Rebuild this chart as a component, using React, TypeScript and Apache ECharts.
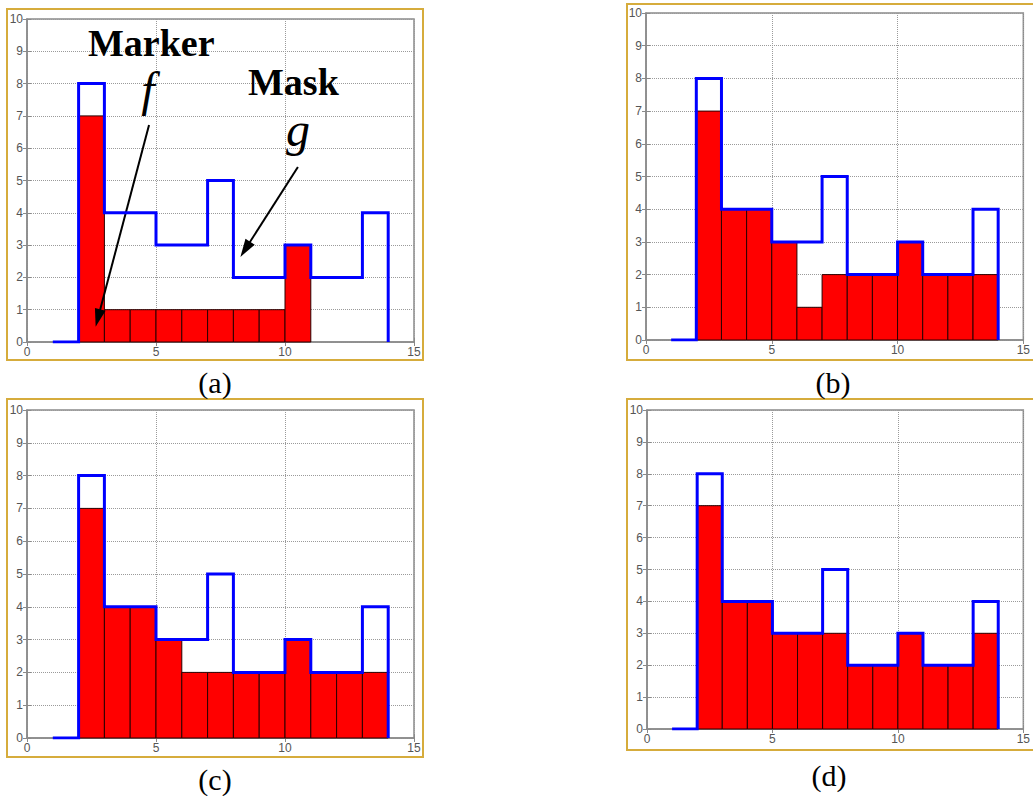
import React, { useEffect, useRef } from "react";
import * as echarts from "echarts";

// bins start at 1,2,...,13, each of width 1
const binStarts = [1, 2, 3, 4, 5, 6, 7, 8, 9, 10, 11, 12, 13];
const maskG = [0, 8, 4, 4, 3, 3, 5, 2, 2, 3, 2, 2, 4];
const markerA = [0, 7, 1, 1, 1, 1, 1, 1, 1, 3, 0, 0, 0];
const markerB = [0, 7, 4, 4, 3, 1, 2, 2, 2, 3, 2, 2, 2];
const markerC = [0, 7, 4, 4, 3, 2, 2, 2, 2, 3, 2, 2, 2];
const markerD = [0, 7, 4, 4, 3, 3, 3, 2, 2, 3, 2, 2, 3];
const panelMarkers = [markerA, markerB, markerC, markerD];
const captions = ["(a)", "(b)", "(c)", "(d)"];
// annotation arrows in panel (a), in data coordinates: [from, to]
const arrowF = [[4.73, 6.72], [2.75, 0.74]];
const arrowG = [[10.5, 5.42], [8.46, 2.87]];

const gridBoxes = [
  { left: 27, top: 19, width: 387, height: 323 },
  { left: 646, top: 13, width: 386, height: 327 },
  { left: 27, top: 410, width: 387, height: 328 },
  { left: 647, top: 410, width: 385, height: 319 },
];
const frames = [
  { x: 7, y: 9, width: 416, height: 351 },
  { x: 627, y: 4, width: 430, height: 356 },
  { x: 7, y: 399, width: 416, height: 358 },
  { x: 627, y: 399, width: 430, height: 351 },
];
const captionPos = [
  [215, 382],
  [833, 382],
  [215, 779],
  [829, 775],
];

function stepPoints(values: number[]) {
  const pts: number[][] = [];
  values.forEach((v, i) => {
    pts.push([binStarts[i], v]);
    pts.push([binStarts[i] + 1, v]);
  });
  pts.push([binStarts[binStarts.length - 1] + 1, 0]);
  return pts;
}

export default function App() {
  const ref = useRef<HTMLDivElement>(null);
  useEffect(() => {
    if (!ref.current) return;
    const chart = echarts.init(ref.current, null, { renderer: "svg" });
    const labelStyle = {
      fontFamily: "Liberation Sans",
      fontSize: 12,
      color: "#555",
    };
    const grids: any[] = [];
    const xAxes: any[] = [];
    const yAxes: any[] = [];
    const series: any[] = [];
    gridBoxes.forEach((g, k) => {
      grids.push({ ...g, show: true, borderColor: "#8a8a8a", borderWidth: 1.5, containLabel: false });
      xAxes.push({
        type: "value", gridIndex: k, min: 0, max: 15, interval: 5, position: "bottom",
        axisLine: { show: true, lineStyle: { color: "#8a8a8a", width: 1.5 } },
        axisTick: { show: true, inside: true, length: 4, lineStyle: { color: "#8a8a8a" } },
        axisLabel: { ...labelStyle, margin: 4 },
        splitLine: { show: true, lineStyle: { type: "dotted", color: "#9a9a9a", width: 1 } },
      });
      xAxes.push({
        type: "value", gridIndex: k, min: 0, max: 15, interval: 5, position: "top",
        axisLine: { show: false },
        axisTick: { show: true, inside: true, length: 4, lineStyle: { color: "#8a8a8a" } },
        axisLabel: { show: false },
        splitLine: { show: false },
      });
      yAxes.push({
        type: "value", gridIndex: k, min: 0, max: 10, interval: 1, position: "left",
        axisLine: { show: true, lineStyle: { color: "#8a8a8a", width: 1.5 } },
        axisTick: { show: true, inside: true, length: 4, lineStyle: { color: "#8a8a8a" } },
        axisLabel: { ...labelStyle, margin: 4 },
        splitLine: { show: true, lineStyle: { type: "dotted", color: "#9a9a9a", width: 1 } },
      });
      yAxes.push({
        type: "value", gridIndex: k, min: 0, max: 10, interval: 1, position: "right",
        axisLine: { show: false },
        axisTick: { show: true, inside: true, length: 4, lineStyle: { color: "#8a8a8a" } },
        axisLabel: { show: false },
        splitLine: { show: false },
      });
      const marker = panelMarkers[k];
      series.push({
        type: "custom",
        xAxisIndex: k * 2,
        yAxisIndex: k * 2,
        z: 2,
        encode: { x: [0, 1], y: 2 },
        data: binStarts.map((s, i) => [s, s + 1, marker[i]]).filter((d) => d[2] > 0),
        renderItem: (params: any, api: any) => {
          const p0 = api.coord([api.value(0), api.value(2)]);
          const p1 = api.coord([api.value(1), 0]);
          return {
            type: "rect",
            shape: { x: p0[0], y: p0[1], width: p1[0] - p0[0], height: p1[1] - p0[1] },
            style: { fill: "#ff0000", stroke: "#2a0000", lineWidth: 1 },
          };
        },
      });
      const lineSeries: any = {
        type: "line",
        xAxisIndex: k * 2,
        yAxisIndex: k * 2,
        z: 5,
        data: stepPoints(maskG),
        showSymbol: false,
        symbol: "none",
        lineStyle: { color: "#0000ff", width: 3, join: "miter" },
        silent: true,
      };
      if (k === 0) {
        lineSeries.markLine = {
          silent: true,
          symbol: ["none", "triangle"],
          symbolSize: [11, 18],
          label: { show: false },
          lineStyle: { color: "#000", width: 2, type: "solid" },
          data: [
            [{ coord: arrowF[0] }, { coord: arrowF[1] }],
            [{ coord: arrowG[0] }, { coord: arrowG[1] }],
          ],
        };
      }
      series.push(lineSeries);
    });

    const graphics: any[] = [];
    frames.forEach((f) => {
      graphics.push({
        type: "rect",
        shape: f,
        style: { fill: "none", stroke: "#d6ac3c", lineWidth: 2 },
        z: 100,
        silent: true,
      });
    });
    captions.forEach((c, i) => {
      graphics.push({
        type: "text",
        x: captionPos[i][0],
        y: captionPos[i][1],
        style: {
          text: c,
          font: '30px "Liberation Serif"',
          fill: "#000",
          align: "center",
          verticalAlign: "middle",
        },
        z: 100,
      });
    });
    const annotations = [
      { text: "Marker", x: 88, y: 43, font: 'bold 38px "Liberation Serif"', align: "left" },
      { text: "Mask", x: 248, y: 82, font: 'bold 38px "Liberation Serif"', align: "left" },
      { text: "f", x: 148, y: 89, font: 'italic 48px "Liberation Serif"', align: "center" },
      { text: "g", x: 298, y: 129, font: 'italic 48px "Liberation Serif"', align: "center" },
    ];
    annotations.forEach((a) => {
      graphics.push({
        type: "text",
        x: a.x,
        y: a.y,
        style: { text: a.text, font: a.font, fill: "#000", align: a.align, verticalAlign: "middle" },
        z: 100,
      });
    });

    chart.setOption({
      animation: false,
      backgroundColor: "#fff",
      grid: grids,
      xAxis: xAxes,
      yAxis: yAxes,
      series,
      graphic: graphics,
    });
    return () => chart.dispose();
  }, []);
  return (
    <div
      ref={ref}
      style={{ position: "fixed", left: 0, top: 0, width: 1033, height: 796 }}
    />
  );
}
